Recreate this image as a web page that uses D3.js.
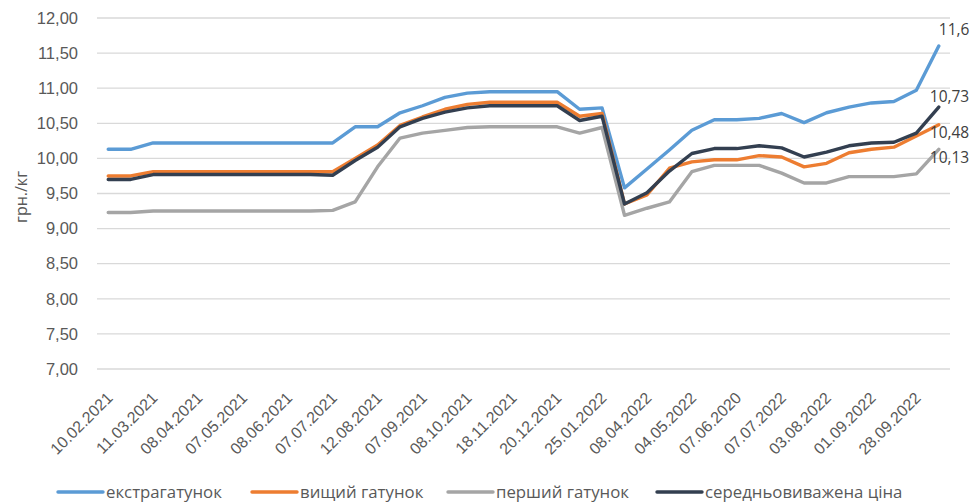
<!DOCTYPE html>
<html lang="uk">
<head>
<meta charset="utf-8">
<script src="https://cdn.jsdelivr.net/npm/d3@7"></script>
<style>
  html, body { margin: 0; padding: 0; background: #fff; }
  svg { display: block; font-family: "Open Sans", "Noto Sans", sans-serif; }
</style>
</head>
<body>
<svg id="chart" width="975" height="503"></svg>
<script>
// Dates printed under the axis (every second observation is labelled)
const tickLabels = [
  "10.02.2021", "11.03.2021", "08.04.2021", "07.05.2021", "08.06.2021",
  "07.07.2021", "12.08.2021", "07.09.2021", "08.10.2021", "18.11.2021",
  "20.12.2021", "25.01.2022", "08.04.2022", "04.05.2022", "07.06.2020",
  "07.07.2022", "03.08.2022", "01.09.2022", "28.09.2022"
];

// Prices, грн./кг, one value per observation (38 observations)
const extra = [
  10.13, 10.13, 10.22, 10.22, 10.22, 10.22, 10.22, 10.22, 10.22, 10.22,
  10.22, 10.45, 10.45, 10.65, 10.75, 10.87, 10.93, 10.95, 10.95, 10.95,
  10.95, 10.70, 10.72, 9.58, 9.85, 10.12, 10.40, 10.55, 10.55, 10.57,
  10.64, 10.51, 10.65, 10.73, 10.79, 10.81, 10.97, 11.6
];
const premium = [
  9.75, 9.75, 9.81, 9.81, 9.81, 9.81, 9.81, 9.81, 9.81, 9.81,
  9.81, 10.00, 10.19, 10.47, 10.59, 10.70, 10.77, 10.80, 10.80, 10.80,
  10.80, 10.60, 10.64, 9.35, 9.48, 9.86, 9.95, 9.98, 9.98, 10.04,
  10.02, 9.88, 9.93, 10.08, 10.13, 10.16, 10.32, 10.48
];
const firstGrade = [
  9.23, 9.23, 9.25, 9.25, 9.25, 9.25, 9.25, 9.25, 9.25, 9.25,
  9.26, 9.38, 9.88, 10.29, 10.36, 10.40, 10.44, 10.45, 10.45, 10.45,
  10.45, 10.36, 10.44, 9.19, 9.29, 9.38, 9.81, 9.90, 9.90, 9.90,
  9.79, 9.65, 9.65, 9.74, 9.74, 9.74, 9.78, 10.13
];
const weighted = [
  9.70, 9.70, 9.77, 9.77, 9.77, 9.77, 9.77, 9.77, 9.77, 9.77,
  9.76, 9.97, 10.16, 10.45, 10.57, 10.66, 10.72, 10.75, 10.75, 10.75,
  10.75, 10.54, 10.60, 9.35, 9.51, 9.82, 10.07, 10.14, 10.14, 10.18,
  10.15, 10.02, 10.09, 10.18, 10.22, 10.23, 10.36, 10.73
];

const seriesNames = ["екстрагатунок", "вищий гатунок", "перший гатунок", "середньовиважена ціна"];
const seriesColors = ["#5b9bd5", "#ed7d31", "#a5a5a5", "#333f50"];
const yTicks = [7, 7.5, 8, 8.5, 9, 9.5, 10, 10.5, 11, 11.5, 12];

const series = [extra, premium, firstGrade, weighted].map((values, k) => ({
  name: seriesNames[k], color: seriesColors[k], values
}));

const svg = d3.select("#chart");
const locale = d3.formatLocale({ decimal: ",", thousands: " ", grouping: [3], currency: ["", " грн"] });
const fmt2 = locale.format(".2f");
const fmtLabel = v => String(v).replace(".", ",");

const plot = { left: 97, right: 950, top: 18, bottom: 369 };
const idx = d3.range(extra.length);

const x = d3.scalePoint().domain(idx).range([plot.left, plot.right]).padding(0.5);
const y = d3.scaleLinear().domain([7, 12]).range([plot.bottom, plot.top]);

// Horizontal gridlines
svg.append("g")
  .selectAll("line")
  .data(yTicks)
  .join("line")
  .attr("x1", plot.left).attr("x2", plot.right)
  .attr("y1", d => y(d)).attr("y2", d => y(d))
  .attr("stroke", "#d9d9d9").attr("stroke-width", 1.3);

// Y axis labels
const yAxis = svg.append("g")
  .attr("transform", `translate(${plot.left - 16},0)`)
  .call(d3.axisLeft(y).tickValues(yTicks).tickFormat(fmt2).tickSize(0));
yAxis.select(".domain").remove();
yAxis.selectAll("text")
  .attr("fill", "#595959")
  .style("font-size", "16.5px");

// Y axis title
svg.append("text")
  .attr("transform", "translate(21,197) rotate(-90)")
  .attr("text-anchor", "middle")
  .attr("dy", "0.35em")
  .attr("fill", "#595959")
  .style("font-size", "16px")
  .text("грн./кг");

// X axis labels, rotated
const xAxis = svg.append("g")
  .attr("transform", `translate(0,${plot.bottom})`)
  .call(d3.axisBottom(x)
    .tickValues(idx.filter(i => i % 2 === 0))
    .tickFormat(i => tickLabels[i / 2])
    .tickSize(0));
xAxis.select(".domain").remove();
xAxis.selectAll("text")
  .attr("fill", "#595959")
  .style("font-size", "16px")
  .attr("text-anchor", "end")
  .attr("x", 0)
  .attr("y", 0)
  .attr("dy", "0.35em")
  .attr("transform", "translate(1,26) rotate(-45)");

// Lines
const line = d3.line()
  .x((d, i) => x(i))
  .y(d => y(d));

svg.append("g")
  .selectAll("path")
  .data(series)
  .join("path")
  .attr("d", s => line(s.values))
  .attr("fill", "none")
  .attr("stroke", s => s.color)
  .attr("stroke-width", 3.4)
  .attr("stroke-linejoin", "round")
  .attr("stroke-linecap", "round");

// Value labels for the last observation
const last = idx.length - 1;
const labelOffsets = [[0, -17], [-9, 8], [-9, 8], [-9, -11]];
svg.append("g")
  .selectAll("text")
  .data(series)
  .join("text")
  .attr("x", (s, k) => x(last) + labelOffsets[k][0])
  .attr("y", (s, k) => y(s.values[last]) + labelOffsets[k][1])
  .attr("dy", "0.35em")
  .attr("fill", "#404040")
  .style("font-size", "15.5px")
  .text(s => fmtLabel(s.values[last]));

// Legend
const legendX = [58, 252, 448, 657];
const legend = svg.append("g")
  .selectAll("g")
  .data(series)
  .join("g")
  .attr("transform", (s, k) => `translate(${legendX[k]},492)`);
legend.append("line")
  .attr("x1", 0).attr("x2", 45)
  .attr("stroke", s => s.color)
  .attr("stroke-width", 3.4)
  .attr("stroke-linecap", "round");
legend.append("text")
  .attr("x", 48)
  .attr("dy", "0.35em")
  .attr("fill", "#595959")
  .style("font-size", "16.8px")
  .text(s => s.name);
</script>
</body>
</html>
